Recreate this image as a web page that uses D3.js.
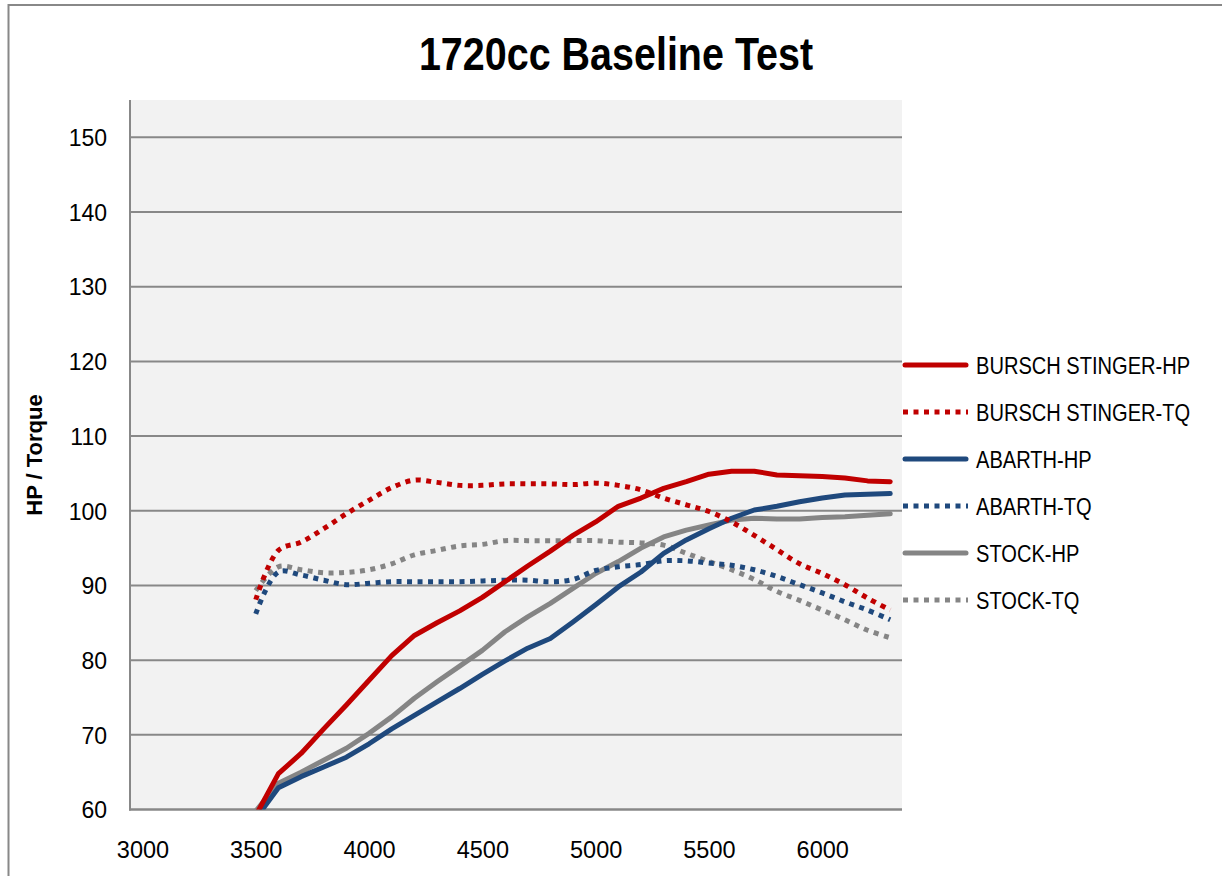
<!DOCTYPE html>
<html>
<head>
<meta charset="utf-8">
<script src="https://cdn.jsdelivr.net/npm/d3@7"></script>
<style>
  html, body { margin: 0; padding: 0; background: #fff; }
  svg { display: block; }
</style>
</head>
<body>
<svg id="chart" width="1222" height="876"></svg>
<script>
const rpm = [3500,3600,3700,3800,3900,4000,4100,4200,4300,4400,4500,4600,4700,4800,4900,
             5000,5100,5200,5300,5400,5500,5600,5700,5800,5900,6000,6100,6200,6300];
const burschHP = [59.2,64.8,67.5,70.8,74.0,77.3,80.6,83.3,85.0,86.6,88.4,90.5,92.6,94.6,96.7,
                  98.5,100.6,101.7,103.0,103.9,104.9,105.3,105.3,104.8,104.7,104.6,104.4,104.0,103.9];
const burschTQ = [88.1,94.7,95.8,97.6,99.6,101.4,103.1,104.1,103.8,103.4,103.4,103.6,103.6,103.6,103.5,
                  103.7,103.4,102.8,101.7,100.8,99.9,98.5,96.7,94.8,92.9,91.6,90.1,88.3,86.7];
const abarthHP = [58.8,62.9,64.4,65.7,67.0,68.8,70.8,72.6,74.4,76.2,78.1,79.9,81.6,82.9,85.1,
                  87.4,89.8,91.8,94.3,96.1,97.6,99.0,100.1,100.6,101.2,101.7,102.1,102.2,102.3];
const abarthTQ = [86.2,91.8,91.4,90.7,90.1,90.3,90.5,90.5,90.5,90.5,90.6,90.7,90.7,90.5,90.8,
                  92.0,92.5,92.8,93.3,93.3,93.0,92.7,92.1,91.2,90.1,89.0,87.8,86.7,85.4];
const stockHP = [59.8,63.5,65.0,66.6,68.2,70.2,72.4,74.9,77.1,79.2,81.3,83.8,85.8,87.6,89.6,
                 91.6,93.2,95.0,96.5,97.4,98.1,98.75,99.0,98.9,98.9,99.1,99.2,99.4,99.6];
const stockTQ = [89.3,92.5,92.1,91.7,91.75,92.1,92.9,94.1,94.7,95.3,95.5,96.0,96.0,96.0,96.0,
                 96.0,95.8,95.7,95.4,94.3,93.2,92.1,90.8,89.2,88.0,86.7,85.4,84.0,83.0];
const seriesNames = ["BURSCH STINGER-HP","BURSCH STINGER-TQ","ABARTH-HP","ABARTH-TQ","STOCK-HP","STOCK-TQ"];
const xTicks = [3000,3500,4000,4500,5000,5500,6000];
const yTicks = [60,70,80,90,100,110,120,130,140,150];
const titleText = "1720cc Baseline Test";
const yTitle = "HP / Torque";

const series = [
  {name: seriesNames[0], values: burschHP, color: "#C00000", dotted: false},
  {name: seriesNames[1], values: burschTQ, color: "#C00000", dotted: true},
  {name: seriesNames[2], values: abarthHP, color: "#1F497D", dotted: false},
  {name: seriesNames[3], values: abarthTQ, color: "#1F497D", dotted: true},
  {name: seriesNames[4], values: stockHP, color: "#858585", dotted: false},
  {name: seriesNames[5], values: stockTQ, color: "#858585", dotted: true}
];

const svg = d3.select("#chart");
const plot = {left: 130, right: 902, top: 100, bottom: 809.5};
const x = d3.scaleLinear().domain([2945, 6352]).range([plot.left, plot.right]);
const y = d3.scaleLinear().domain([60, 155]).range([plot.bottom, plot.top]);
const axisGray = "#888888";
const fontFam = "'Liberation Sans', Arial, sans-serif";

// outer chart border (only left/top visible)
svg.append("rect").attr("x", 8.5).attr("y", 5).attr("width", 1240).attr("height", 900)
  .attr("fill", "none").attr("stroke", axisGray).attr("stroke-width", 2);

// plot background
svg.append("rect").attr("x", plot.left).attr("y", plot.top)
  .attr("width", plot.right - plot.left).attr("height", plot.bottom - plot.top)
  .attr("fill", "#f2f2f2");

// gridlines
svg.append("g").selectAll("line").data(yTicks.filter(d => d > 60)).join("line")
  .attr("x1", plot.left).attr("x2", plot.right)
  .attr("y1", d => y(d)).attr("y2", d => y(d))
  .attr("stroke", axisGray).attr("stroke-width", 2);

// axes lines
svg.append("line").attr("x1", plot.left).attr("x2", plot.left)
  .attr("y1", plot.top).attr("y2", plot.bottom + 1)
  .attr("stroke", axisGray).attr("stroke-width", 2);
svg.append("line").attr("x1", plot.left - 1).attr("x2", plot.right)
  .attr("y1", y(60)).attr("y2", y(60))
  .attr("stroke", axisGray).attr("stroke-width", 2.5);

// y tick labels
const yAxis = svg.append("g").attr("transform", `translate(107,0)`)
  .call(d3.axisLeft(y).tickValues(yTicks).tickSize(0).tickPadding(0));
yAxis.select(".domain").remove();
yAxis.selectAll("text").attr("font-family", fontFam)
  .attr("font-size", 23).attr("fill", "#000").attr("dy", "0.36em");

// x tick labels
const xAxis = svg.append("g").attr("transform", `translate(0,841)`)
  .call(d3.axisBottom(x).tickValues(xTicks).tickFormat(d3.format("d")).tickSize(0).tickPadding(0));
xAxis.select(".domain").remove();
xAxis.selectAll("text").attr("font-family", fontFam)
  .attr("font-size", 23.5).attr("fill", "#000").attr("dy", "0.71em");

// clip
svg.append("clipPath").attr("id", "clip").append("rect")
  .attr("x", plot.left).attr("y", plot.top)
  .attr("width", plot.right - plot.left).attr("height", plot.bottom - plot.top);

const lineHP = d3.line().x((d, i) => x(rpm[i])).y(d => y(d)).curve(d3.curveLinear);
const lineTQ = d3.line().x((d, i) => x(rpm[i])).y(d => y(d)).curve(d3.curveCatmullRom.alpha(0.5));

const lines = svg.append("g").attr("clip-path", "url(#clip)");
series.slice().reverse().forEach(s => {
  lines.append("path").datum(s.values)
    .attr("d", s.dotted ? lineTQ : lineHP)
    .attr("fill", "none")
    .attr("stroke", s.color)
    .attr("stroke-width", 5)
    .attr("stroke-linecap", s.dotted ? "butt" : "round")
    .attr("stroke-linejoin", "round")
    .attr("stroke-dasharray", s.dotted ? "5,5.5" : null);
});

// title (horizontally condensed to mimic the narrow original face)
svg.append("text").attr("transform", "translate(616,70) scale(0.84,1)")
  .attr("text-anchor", "middle")
  .attr("font-family", fontFam)
  .attr("font-weight", "bold").attr("font-size", 47).attr("fill", "#000")
  .text(titleText);

// y axis title
svg.append("text").attr("transform", "translate(42,455) rotate(-90)")
  .attr("text-anchor", "middle")
  .attr("font-family", fontFam)
  .attr("font-weight", "bold").attr("font-size", 22).attr("fill", "#000")
  .text(yTitle);

// legend
const legend = svg.append("g");
series.forEach((s, i) => {
  const ly = 365 + i * 47;
  legend.append("line").attr("x1", s.dotted ? 903 : 905).attr("x2", s.dotted ? 968 : 966)
    .attr("y1", ly).attr("y2", ly)
    .attr("stroke", s.color).attr("stroke-width", 5)
    .attr("stroke-linecap", s.dotted ? "butt" : "round")
    .attr("stroke-dasharray", s.dotted ? "5,5.5" : null);
  legend.append("text").attr("transform", `translate(976,${ly + 8.5}) scale(0.82,1)`)
    .attr("font-family", fontFam)
    .attr("font-size", 24.5).attr("fill", "#000")
    .text(s.name);
});
</script>
</body>
</html>
